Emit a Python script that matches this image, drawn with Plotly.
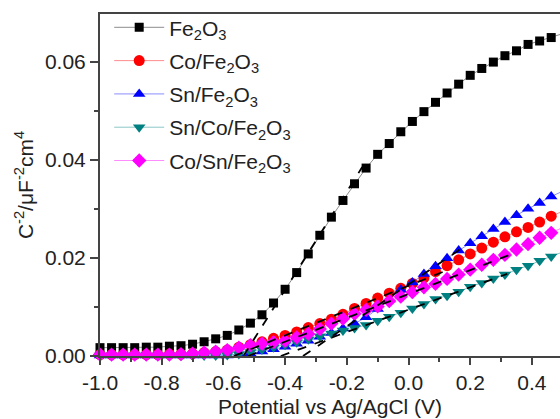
import plotly.graph_objects as go

# Potential (V vs Ag/AgCl)
potential = [-1.0, -0.9625, -0.925, -0.8875, -0.85, -0.8125, -0.775, -0.7375, -0.7, -0.6625,
             -0.625, -0.5875, -0.55, -0.5125, -0.475, -0.4375, -0.4, -0.3625, -0.325, -0.2875,
             -0.25, -0.2125, -0.175, -0.1375, -0.1, -0.0625, -0.025, 0.0125, 0.05, 0.0875,
             0.125, 0.1625, 0.2, 0.2375, 0.275, 0.3125, 0.35, 0.3875, 0.425, 0.4625, 0.5]

fe2o3 = [0.0017, 0.0017, 0.0017, 0.0017, 0.0018, 0.0018, 0.0020, 0.0021, 0.0024, 0.0029,
         0.0035, 0.0042, 0.0053, 0.0067, 0.0084, 0.0108, 0.0136, 0.0170, 0.0208, 0.0246,
         0.0283, 0.0317, 0.0351, 0.0383, 0.0411, 0.0433, 0.0457, 0.0478, 0.0498, 0.0517,
         0.0536, 0.0554, 0.0572, 0.0586, 0.0599, 0.0612, 0.0622, 0.0635, 0.0642, 0.0649, 0.0657]

co_fe2o3 = [0.0003, 0.0003, 0.0003, 0.0003, 0.0003, 0.0003, 0.0004, 0.0004, 0.0005, 0.0007,
            0.0009, 0.0012, 0.0018, 0.0023, 0.0029, 0.0036, 0.0042, 0.0049, 0.0058, 0.0066,
            0.0075, 0.0085, 0.0097, 0.0107, 0.0118, 0.0128, 0.0138, 0.0148, 0.0159, 0.0172,
            0.0184, 0.0196, 0.0208, 0.0220, 0.0232, 0.0243, 0.0253, 0.0262, 0.0273, 0.0285, 0.0295]

sn_fe2o3 = [0.0001, 0.0001, 0.0001, 0.0001, 0.0001, 0.0001, 0.0001, 0.0001, 0.0001, 0.0001,
            0.0001, 0.0001, 0.0002, 0.0005, 0.0009, 0.0014, 0.0019, 0.0025, 0.0031, 0.0039,
            0.0047, 0.0056, 0.0066, 0.0079, 0.0096, 0.0115, 0.0135, 0.0150, 0.0167, 0.0183,
            0.0199, 0.0215, 0.0230, 0.0244, 0.0259, 0.0273, 0.0287, 0.0300, 0.0312, 0.0325, 0.0336]

sn_co_fe2o3 = [0.0001, 0.0001, 0.0001, 0.0001, 0.0001, 0.0001, 0.0001, 0.0001, 0.0001, 0.0001,
               0.0001, 0.0002, 0.0004, 0.0008, 0.0013, 0.0018, 0.0023, 0.0028, 0.0034, 0.0040,
               0.0046, 0.0052, 0.0057, 0.0063, 0.0072, 0.0080, 0.0088, 0.0097, 0.0106, 0.0116,
               0.0123, 0.0131, 0.0141, 0.0149, 0.0158, 0.0166, 0.0176, 0.0184, 0.0194, 0.0203, 0.0212]

co_sn_fe2o3 = [0.0003, 0.0003, 0.0003, 0.0003, 0.0003, 0.0003, 0.0003, 0.0004, 0.0005, 0.0007,
               0.0009, 0.0012, 0.0017, 0.0022, 0.0025, 0.0028, 0.0031, 0.0038, 0.0045, 0.0055,
               0.0066, 0.0076, 0.0086, 0.0094, 0.0101, 0.0112, 0.0121, 0.0130, 0.0140, 0.0147,
               0.0157, 0.0166, 0.0176, 0.0186, 0.0196, 0.0206, 0.0217, 0.0228, 0.0241, 0.0251, 0.0262]

series_names = ["Fe<sub>2</sub>O<sub>3</sub>", "Co/Fe<sub>2</sub>O<sub>3</sub>",
                "Sn/Fe<sub>2</sub>O<sub>3</sub>", "Sn/Co/Fe<sub>2</sub>O<sub>3</sub>",
                "Co/Sn/Fe<sub>2</sub>O<sub>3</sub>"]
series_values = [fe2o3, co_fe2o3, sn_fe2o3, sn_co_fe2o3, co_sn_fe2o3]

# Mott-Schottky linear fits: x-intercept (flat band), slope, end potential
fit_intercept = [-0.535, -0.566, -0.342, -0.414, -0.52]
fit_slope = [0.100, 0.0253, 0.0427, 0.0228, 0.0243]
fit_end = [-0.15, 0.13, 0.17, 0.32, 0.35]

x_tickvals = [-1.0, -0.8, -0.6, -0.4, -0.2, 0.0, 0.2, 0.4]
x_ticktext = ["-1.0", "-0.8", "-0.6", "-0.4", "-0.2", "0.0", "0.2", "0.4"]
y_tickvals = [0.0, 0.02, 0.04, 0.06]
y_ticktext = ["0.00", "0.02", "0.04", "0.06"]

colors = ["#000000", "#ff0000", "#0000ff", "#008080", "#ff00ff"]
line_colors = ["rgba(0,0,0,0.45)", "rgba(255,0,0,0.45)", "rgba(0,0,255,0.45)",
               "rgba(0,128,128,0.45)", "rgba(255,0,255,0.45)"]
symbols = ["square", "circle", "triangle-up", "triangle-down", "diamond"]
sizes = [9, 11, 11, 11, 11]

FONT = "Liberation Sans, Arial, sans-serif"

fig = go.Figure()
for i, (name, vals) in enumerate(zip(series_names, series_values)):
    fig.add_trace(go.Scatter(
        x=potential, y=vals, name=name, mode="lines+markers",
        line=dict(color=line_colors[i], width=1),
        marker=dict(symbol=symbols[i], size=sizes[i], color=colors[i], line=dict(width=0)),
        cliponaxis=False, legendgroup=f"g{i}"))

for x0, s, x1 in zip(fit_intercept, fit_slope, fit_end):
    fig.add_trace(go.Scatter(
        x=[x0, x1], y=[0.0, s * (x1 - x0)], mode="lines", showlegend=False,
        line=dict(color="black", width=1.8, dash="dash"), hoverinfo="skip"))

fig.update_layout(
    width=560, height=419,
    margin=dict(l=100, r=0, t=14, b=63),
    paper_bgcolor="white", plot_bgcolor="white",
    font=dict(family=FONT, size=21, color="#222222"),
    showlegend=True,
    legend=dict(x=0.02, y=1.02, xanchor="left", yanchor="top",
                bgcolor="rgba(0,0,0,0)", font=dict(size=21),
                traceorder="grouped", tracegroupgap=3, itemwidth=50),
    xaxis=dict(range=[-1.0, 0.491], showline=True, linecolor="#444444", linewidth=2,
               mirror=True, ticks="outside", ticklen=7, tickwidth=1.5, tickcolor="#444444",
               tickvals=x_tickvals, ticktext=x_ticktext, showgrid=False, zeroline=False,
               minor=dict(ticks="outside", ticklen=4, dtick=0.1, tickcolor="#444444", tickwidth=1.5),
               title=dict(text="Potential vs Ag/AgCl (V)", font=dict(size=21), standoff=6)),
    yaxis=dict(range=[0.0, 0.0697], showline=True, linecolor="#444444", linewidth=2,
               ticks="outside", ticklen=8, tickwidth=1.5, tickcolor="#444444",
               tickvals=y_tickvals, ticktext=y_ticktext, showgrid=False, zeroline=False,
               minor=dict(ticks="outside", ticklen=4, dtick=0.01, tickcolor="#444444", tickwidth=1.5),
               title=dict(text="C<sup>-2</sup>/μF<sup>-2</sup>cm<sup>4</sup>", font=dict(size=21), standoff=6)),
)

fig.write_html("out.html", config={"displayModeBar": False},
               post_script="document.body.style.margin='0px';")
